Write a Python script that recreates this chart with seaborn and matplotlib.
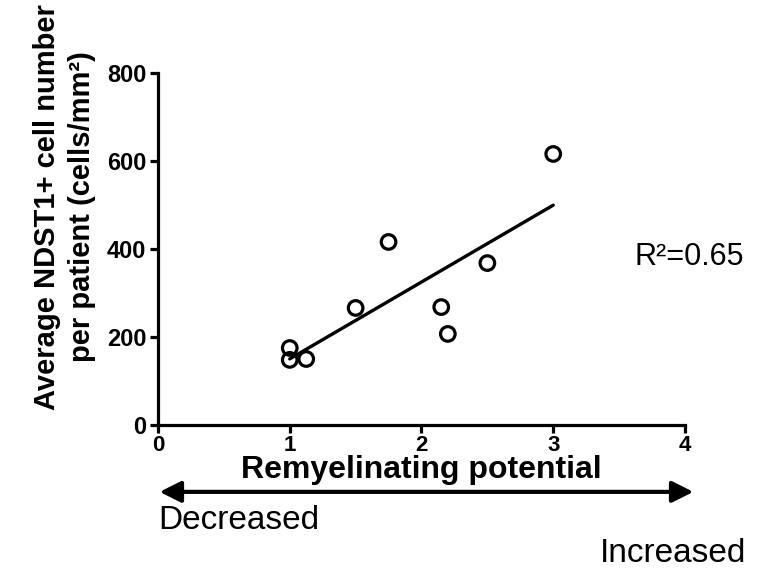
import matplotlib
matplotlib.use("Agg")
import matplotlib.pyplot as plt
import pandas as pd
import seaborn as sns

# values
remyelination = [1.0, 1.0, 1.125, 1.5, 1.75, 2.15, 2.2, 2.5, 3.0]
ndst1_cells = [175, 148, 150, 266, 416, 268, 207, 368, 616]
x_ticks = [0, 1, 2, 3, 4]
y_ticks = [0, 200, 400, 600, 800]
r2_label = "R\u00b2=0.65"

df = pd.DataFrame({"Remyelinating potential": remyelination,
                   "NDST1": ndst1_cells})

sns.set_style("ticks")
plt.rcParams['font.family'] = ['Liberation Sans', 'DejaVu Sans']
for key in ["text.color", "axes.labelcolor", "xtick.color", "ytick.color", "axes.edgecolor"]:
    plt.rcParams[key] = "black"

fig = plt.figure(figsize=(7.83, 5.69), dpi=100)
ax = fig.add_axes([0.2018, 0.2531, 0.673, 0.6186])

sns.regplot(data=df, x="Remyelinating potential", y="NDST1", ax=ax, ci=None,
            color="black", truncate=True,
            scatter_kws=dict(s=110, facecolors="none", edgecolors="black",
                             linewidths=2.3, alpha=1, clip_on=False, zorder=3),
            line_kws=dict(lw=2.4))

ax.set_xlim(0, 4)
ax.set_ylim(0, 800)
ax.set_xticks(x_ticks)
ax.set_yticks(y_ticks)
sns.despine(ax=ax)
for s in ["left", "bottom"]:
    ax.spines[s].set_linewidth(2.3)
ax.tick_params(width=2.3, length=5.5, labelsize=17, pad=3)
ax.tick_params(axis="x", labelsize=16, pad=2)
for lab in ax.get_xticklabels() + ax.get_yticklabels():
    lab.set_fontweight("bold")

ax.set_xlabel("Remyelinating potential", fontsize=23, fontweight="bold", va="center")
ax.xaxis.set_label_coords(0.5, -0.127)
ax.set_ylabel("Average NDST1+ cell number\nper patient (cells/mm\u00b2)",
              fontsize=21, fontweight="bold", linespacing=1.3)
ax.yaxis.set_label_coords(-0.118, 0.62)

ax.text(3.62, 382, r2_label, fontsize=22, va="center", ha="left", clip_on=False)

# direction arrow under the x axis
ax.annotate("", xy=(1.016, -0.19), xytext=(0.003, -0.19), xycoords="axes fraction",
            arrowprops=dict(arrowstyle="<|-|>", lw=3, mutation_scale=32,
                            color="black", shrinkA=0, shrinkB=0))
ax.text(0.0, -0.27, "Decreased", transform=ax.transAxes, fontsize=24,
        ha="left", va="center")
ax.text(1.116, -0.365, "Increased", transform=ax.transAxes, fontsize=24,
        ha="right", va="center")

fig.savefig("out.png", dpi=100)
